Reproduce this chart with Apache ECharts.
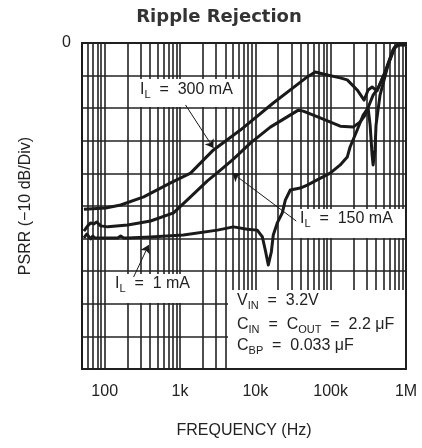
<!DOCTYPE html>
<html>
<head>
<meta charset="utf-8">
<script src="https://cdn.jsdelivr.net/npm/echarts@6/dist/echarts.min.js"></script>
<style>
html, body { margin: 0; padding: 0; background: #fff; }
#chart { width: 422px; height: 448px; }
</style>
</head>
<body>
<div id="chart"></div>
<script>
// values: frequency in Hz, PSRR in dB
const freq300 = [53, 103, 163, 330, 750, 1380, 2780, 6330, 17300, 48900, 62300, 89900, 134000, 166000, 225000, 278000, 314000, 355000, 413000, 527000, 673000, 784000, 1000000]
const psrr300 = [-51, -50.6, -49.7, -47.2, -42.9, -39.9, -32.8, -26.7, -18.4, -10.4, -8.9, -9.8, -10.7, -11.3, -14.4, -17.5, -14.4, -13.5, -14.7, -8.9, -2.1, -0.5, -0.5]

const freq150 = [53, 59.5, 65.3, 71.5, 78.3, 88.5, 110, 202, 407, 820, 1380, 2310, 3440, 5110, 8590, 15800, 37200, 43300, 72600, 134000, 199000, 246000, 287000, 324000, 366000, 426000, 544000, 694000, 790000, 1000000]
const psrr150 = [-57.7, -56.1, -55.2, -55.5, -54.9, -56.1, -56.4, -55.8, -54.6, -52.1, -47.2, -42.3, -39, -35.6, -30.7, -25.8, -20.6, -20.9, -23, -25.5, -25.8, -24.2, -22.1, -19, -16, -13.8, -8.3, -1.5, -0.5, -0.5]

const freq1 = [53, 57.8, 61.4, 65.3, 69.4, 73.8, 88.5, 149, 163, 179, 202, 407, 1110, 3140, 5110, 7830, 10600, 12400, 13550, 14870, 16300, 17300, 19550, 22800, 25000, 29100, 39500, 48900, 66200, 98500, 134000, 166000, 181000, 225000, 270000, 314000, 334000, 355000, 366000, 388000, 400000, 452000, 578000, 715000, 807000, 1000000]
const psrr1 = [-59.8, -58.6, -59.2, -60.1, -59.2, -59.8, -59.8, -59.8, -59.2, -59.8, -59.8, -59.5, -58.9, -57.4, -56.4, -57.1, -57.4, -59.5, -63.5, -68.1, -64.1, -58.9, -55.2, -52.1, -48.2, -45.1, -44.5, -43.6, -42, -39.9, -37.4, -35, -31.9, -26.7, -22.1, -19.9, -25.2, -34.4, -37.4, -32.8, -25.2, -16, -6.7, -1.2, -0.5, -0.5]

// log grid: 1..9 per decade
const gridMantissa = [1, 2, 3, 4, 5, 6, 7, 8, 9]
const gridDecades = [10, 100, 1000, 10000, 100000]
const xTickValues = [100, 1000, 10000, 100000, 1000000]
const xTickLabels = ['100', '1k', '10k', '100k', '1M']

const FONT = "'Liberation Sans', Arial, sans-serif"
const INK = '#1a1a1a'

const gridFreqs = []
gridDecades.forEach(d => gridMantissa.forEach(m => {
  const f = d * m
  if (f > 50) gridFreqs.push(f)
}))
gridFreqs.push(1000000)

const pairs = (xs, ys) => xs.map((x, i) => [x, ys[i]])

const rich = {
  m: { fontSize: 16, fontFamily: FONT, lineHeight: 20, fill: '#222', verticalAlign: 'middle' },
  s: { fontSize: 11, fontFamily: FONT, lineHeight: 11, fill: '#222', verticalAlign: 'bottom' }
}

const box = (x, y, w, h) => ({
  type: 'rect', z: 3, silent: true,
  shape: { x: x, y: y, width: w, height: h },
  style: { fill: '#fff' }
})
const note = (x, y, text) => ({
  type: 'text', z: 4, silent: true, left: x, top: y,
  style: { text: text, rich: rich, fill: '#222' }
})

const curve = (name, data) => ({
  name: name,
  type: 'line',
  data: data,
  z: 10,
  symbol: 'none',
  smooth: false,
  lineStyle: { color: INK, width: 3, join: 'round' }
})

const myChart = echarts.init(document.getElementById('chart'))

const option = {
  animation: false,
  title: {
    text: 'Ripple Rejection',
    left: 214,
    top: 3,
    textAlign: 'center',
    textStyle: { fontSize: 18, fontWeight: 'bold', fontFamily: 'DejaVu Sans', color: '#333' }
  },
  grid: {
    left: 82, right: 16, top: 43, bottom: 79,
    show: true, borderColor: INK, borderWidth: 2
  },
  xAxis: {
    type: 'log',
    logBase: 10,
    min: 50,
    max: 1000000,
    name: 'FREQUENCY (Hz)',
    nameLocation: 'middle',
    nameGap: 54,
    nameTextStyle: { fontSize: 16, fontFamily: FONT, color: '#222' },
    axisLine: { show: false },
    axisTick: { show: false },
    splitLine: { show: false },
    axisLabel: {
      fontSize: 16, fontFamily: FONT, color: '#222', margin: 15,
      formatter: v => {
        const i = xTickValues.findIndex(t => Math.abs(Math.log10(v) - Math.log10(t)) < 0.01)
        return i < 0 ? '' : xTickLabels[i]
      }
    }
  },
  yAxis: {
    type: 'value',
    min: -100,
    max: 0,
    interval: 10,
    name: 'PSRR (\u221210 dB/Div)',
    nameLocation: 'middle',
    nameRotate: 90,
    nameGap: 48,
    nameTextStyle: { fontSize: 16, fontFamily: FONT, color: '#222' },
    axisLine: { show: false },
    axisTick: { show: false },
    splitLine: { show: true, lineStyle: { color: '#222', width: 1.6 } },
    axisLabel: {
      fontSize: 16, fontFamily: FONT, color: '#222', margin: 11,
      formatter: v => (v === 0 ? '0' : '')
    }
  },
  graphic: {
    elements: [
      box(133, 79, 109, 28),
      note(140, 82, '{m|I}{s|L}{m|  =  300 mA}'),
      box(296, 209, 109, 29),
      note(300, 211, '{m|I}{s|L}{m|  =  150 mA}'),
      box(108, 274, 85, 29),
      note(115, 276, '{m|I}{s|L}{m|  =  1 mA}'),
      box(228, 290, 177, 78),
      note(237, 293, '{m|V}{s|IN}{m|  =  3.2V}'),
      note(237, 317, '{m|C}{s|IN}{m|  =  C}{s|OUT}{m|  =  2.2 \u03bcF}'),
      note(237, 338, '{m|C}{s|BP}{m|  =  0.033 \u03bcF}')
    ]
  },
  series: [
    {
      type: 'line',
      data: [],
      silent: true,
      markLine: {
        z: 1,
        silent: true,
        symbol: 'none',
        label: { show: false },
        lineStyle: { color: '#222', width: 1.6, type: 'solid' },
        emphasis: { disabled: true },
        data: gridFreqs.map(f => ({ xAxis: f }))
      }
    },
    curve('IL = 300 mA', pairs(freq300, psrr300)),
    curve('IL = 150 mA', pairs(freq150, psrr150)),
    curve('IL = 1 mA', pairs(freq1, psrr1)),
    {
      type: 'line',
      data: [],
      silent: true,
      markLine: {
        z: 12,
        silent: true,
        symbol: ['none', 'arrow'],
        symbolSize: 8,
        label: { show: false },
        lineStyle: { color: INK, width: 1, type: 'solid' },
        emphasis: { disabled: true },
        data: [
          [{ coord: [1183, -19] }, { coord: [2780, -32.2] }],
          [{ coord: [34900, -54.6] }, { coord: [4955, -39.9] }],
          [{ coord: [242, -71.8] }, { coord: [383, -62] }]
        ]
      }
    }
  ]
}

myChart.setOption(option)

window.addEventListener('resize', () => {
  myChart.resize()
})
</script>
</body>
</html>
